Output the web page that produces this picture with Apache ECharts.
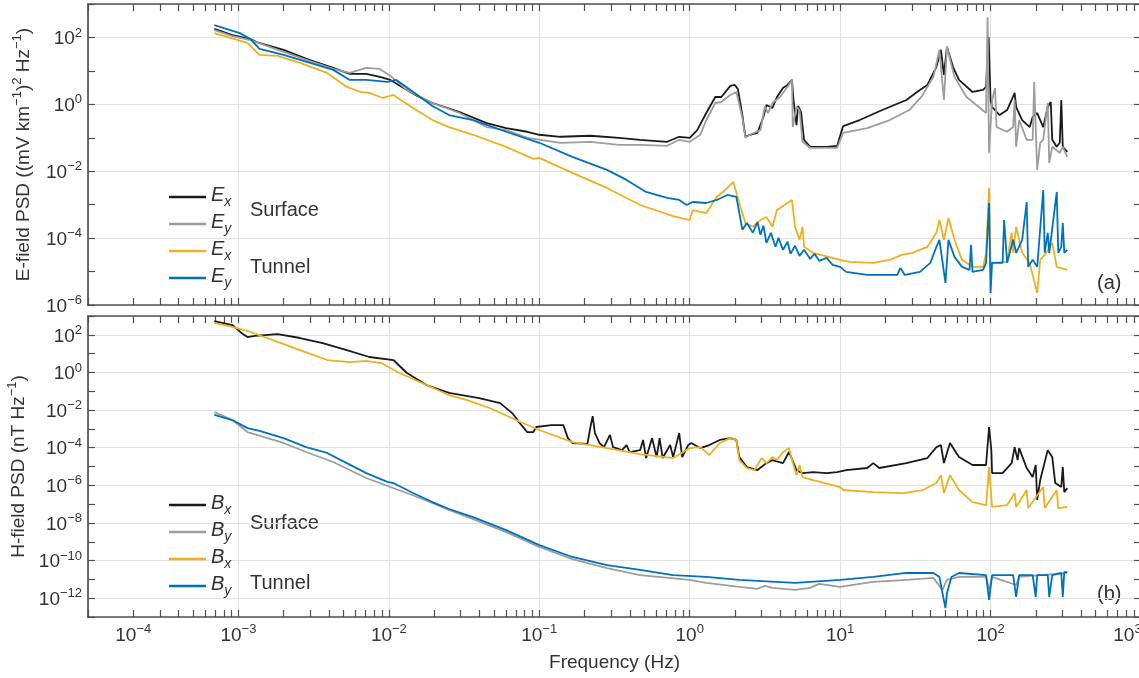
<!DOCTYPE html>
<html>
<head>
<meta charset="utf-8">
<title>E-field / H-field PSD</title>
<script src="https://cdn.jsdelivr.net/npm/echarts@6/dist/echarts.min.js"></script>
<style>
  html, body { margin: 0; padding: 0; background: #fff; }
  #echart { width: 1139px; height: 678px; }
</style>
</head>
<body>
<div id="echart"></div>
<script>
// every point is [log10 frequency (Hz), log10 PSD]

// (a) E-field, (mV km^-1)^2 Hz^-1
const exSurface = [[-3.16,2.26],[-3.04,2.07],[-2.92,1.95],[-2.88,1.86],[-2.70,1.63],[-2.53,1.33],[-2.37,1.09],[-2.26,0.91],[-2.15,0.91],[-2.06,0.82],[-1.99,0.73],[-1.88,0.43],[-1.81,0.25],[-1.71,0.04],[-1.53,-0.23],[-1.35,-0.56],[-1.22,-0.71],[-1.08,-0.82],[-1.00,-0.91],[-0.86,-0.97],[-0.66,-0.94],[-0.47,-1.00],[-0.33,-1.06],[-0.15,-1.12],[-0.07,-0.97],[0.00,-1.00],[0.05,-0.77],[0.11,-0.26],[0.17,0.22],[0.21,0.22],[0.27,0.55],[0.30,0.58],[0.32,0.46],[0.35,-0.32],[0.37,-0.97],[0.40,-0.91],[0.45,-0.85],[0.49,-0.38],[0.51,-0.02],[0.55,-0.11],[0.58,0.22],[0.62,0.49],[0.65,0.58],[0.68,0.73],[0.69,0.13],[0.71,-0.62],[0.72,-0.05],[0.74,-0.23],[0.76,-1.06],[0.80,-1.27],[0.91,-1.27],[0.98,-1.24],[1.02,-0.65],[1.13,-0.47],[1.28,-0.17],[1.44,0.13],[1.53,0.43],[1.58,0.58],[1.64,1.12],[1.67,1.63],[1.69,0.88],[1.71,1.72],[1.75,1.12],[1.79,0.73],[1.88,0.37],[1.95,0.43],[1.97,0.52],[1.987,2.01],[2.00,0.13],[2.01,-0.08],[2.06,-0.32],[2.11,-0.17],[2.14,0.13],[2.16,0.34],[2.17,-0.08],[2.21,-0.47],[2.26,-0.68],[2.28,-0.38],[2.31,-0.26],[2.35,-0.68],[2.38,-0.08],[2.40,0.07],[2.41,-1.06],[2.44,-1.27],[2.46,-1.15],[2.47,0.13],[2.48,-1.27],[2.51,-1.42]];
const eySurface = [[-3.16,2.22],[-3.04,2.04],[-2.92,1.92],[-2.70,1.57],[-2.53,1.30],[-2.37,1.06],[-2.26,0.94],[-2.15,1.09],[-2.06,1.06],[-1.99,0.85],[-1.88,0.43],[-1.71,0.04],[-1.53,-0.26],[-1.35,-0.68],[-1.22,-0.77],[-1.08,-1.00],[-0.86,-1.15],[-0.66,-1.12],[-0.47,-1.21],[-0.33,-1.21],[-0.15,-1.24],[-0.07,-1.06],[0.00,-1.12],[0.07,-0.91],[0.11,-0.47],[0.17,0.04],[0.21,0.07],[0.27,0.28],[0.31,0.37],[0.35,-0.41],[0.37,-1.00],[0.40,-0.91],[0.47,-0.77],[0.50,-0.05],[0.52,-0.26],[0.55,0.04],[0.60,0.22],[0.65,0.52],[0.68,0.73],[0.685,-0.68],[0.71,-0.08],[0.73,-0.17],[0.75,-1.12],[0.80,-1.30],[0.98,-1.30],[1.02,-0.85],[1.18,-0.71],[1.33,-0.47],[1.46,-0.17],[1.54,0.22],[1.62,0.82],[1.66,1.63],[1.69,0.13],[1.71,1.72],[1.76,0.82],[1.84,0.22],[1.93,-0.11],[1.97,-0.26],[1.98,2.60],[1.99,-1.45],[2.01,0.13],[2.03,0.49],[2.04,-0.68],[2.11,-0.82],[2.15,-0.68],[2.16,0.13],[2.17,-1.27],[2.19,-0.47],[2.24,-1.06],[2.28,-1.06],[2.29,0.67],[2.31,-1.96],[2.33,-1.15],[2.35,-1.06],[2.38,0.04],[2.39,-1.75],[2.41,-1.27],[2.46,-1.45],[2.48,-1.27],[2.51,-1.57]];
const exTunnel = [[-3.16,2.13],[-2.94,1.84],[-2.86,1.48],[-2.74,1.45],[-2.59,1.24],[-2.41,0.94],[-2.28,0.52],[-2.19,0.37],[-2.13,0.34],[-2.04,0.19],[-1.97,0.28],[-1.84,-0.11],[-1.71,-0.47],[-1.60,-0.68],[-1.44,-0.91],[-1.22,-1.27],[-1.04,-1.63],[-1.00,-1.60],[-0.78,-2.05],[-0.55,-2.50],[-0.33,-3.01],[-0.11,-3.34],[0.00,-3.46],[0.02,-3.16],[0.11,-3.25],[0.18,-2.77],[0.25,-2.50],[0.29,-2.32],[0.33,-2.95],[0.37,-3.55],[0.42,-3.66],[0.47,-3.46],[0.51,-3.37],[0.55,-3.66],[0.58,-3.16],[0.65,-2.95],[0.68,-2.86],[0.70,-3.66],[0.73,-4.05],[0.75,-3.66],[0.76,-4.26],[0.82,-4.44],[1.00,-4.65],[1.06,-4.71],[1.22,-4.74],[1.33,-4.65],[1.41,-4.50],[1.48,-4.44],[1.58,-4.26],[1.64,-3.84],[1.66,-3.46],[1.69,-4.05],[1.72,-3.40],[1.76,-4.05],[1.81,-4.65],[1.88,-4.86],[1.95,-4.86],[1.97,-4.44],[1.99,-2.50],[2.00,-4.74],[2.11,-4.71],[2.14,-3.84],[2.15,-4.44],[2.17,-3.66],[2.21,-4.44],[2.26,-4.74],[2.31,-5.64],[2.33,-4.65],[2.37,-4.44],[2.41,-4.14],[2.44,-4.86],[2.51,-4.95]];
const eyTunnel = [[-3.16,2.37],[-2.99,2.13],[-2.92,1.95],[-2.86,1.66],[-2.70,1.48],[-2.48,1.18],[-2.37,1.03],[-2.26,0.73],[-2.15,0.73],[-2.01,0.67],[-1.95,0.73],[-1.81,0.28],[-1.71,-0.05],[-1.60,-0.32],[-1.44,-0.47],[-1.22,-0.82],[-1.00,-1.15],[-0.78,-1.57],[-0.55,-1.96],[-0.42,-2.26],[-0.29,-2.62],[-0.15,-2.80],[-0.07,-2.86],[-0.02,-3.01],[0.02,-2.92],[0.11,-2.95],[0.18,-2.86],[0.25,-2.71],[0.31,-2.77],[0.33,-3.25],[0.35,-3.75],[0.38,-3.55],[0.42,-3.84],[0.45,-3.52],[0.47,-3.90],[0.49,-3.63],[0.51,-4.14],[0.54,-3.84],[0.57,-4.26],[0.59,-3.99],[0.62,-4.35],[0.65,-4.11],[0.67,-4.47],[0.70,-4.23],[0.73,-4.53],[0.76,-4.35],[0.80,-4.62],[0.83,-4.47],[0.86,-4.68],[0.91,-4.59],[0.95,-4.80],[1.00,-4.86],[1.04,-5.01],[1.18,-5.10],[1.38,-5.10],[1.40,-4.89],[1.43,-5.10],[1.53,-5.01],[1.60,-4.74],[1.64,-4.26],[1.66,-4.05],[1.70,-5.34],[1.72,-4.05],[1.76,-4.56],[1.81,-4.86],[1.86,-4.95],[1.87,-4.20],[1.88,-5.01],[1.95,-4.95],[1.97,-4.74],[1.99,-2.95],[2.00,-5.64],[2.01,-4.74],[2.08,-4.74],[2.09,-3.46],[2.11,-4.74],[2.15,-4.05],[2.17,-4.44],[2.21,-4.05],[2.24,-2.92],[2.25,-4.86],[2.28,-4.65],[2.31,-4.86],[2.35,-2.56],[2.36,-4.44],[2.38,-3.84],[2.39,-4.44],[2.44,-2.62],[2.45,-4.44],[2.47,-4.26],[2.48,-3.55],[2.49,-4.44],[2.51,-4.35]];

// (b) H-field, nT Hz^-1
const bxSurface = [[-3.16,2.73],[-3.04,2.52],[-2.98,2.10],[-2.94,1.88],[-2.89,1.94],[-2.74,2.04],[-2.59,1.83],[-2.44,1.56],[-2.28,1.19],[-2.13,0.82],[-1.97,0.66],[-1.88,-0.03],[-1.75,-0.67],[-1.60,-1.09],[-1.40,-1.36],[-1.26,-1.63],[-1.18,-2.16],[-1.13,-2.69],[-1.08,-3.17],[-1.04,-3.17],[-1.02,-2.90],[-0.92,-2.80],[-0.84,-2.80],[-0.81,-3.49],[-0.78,-3.75],[-0.68,-3.80],[-0.66,-2.90],[-0.645,-2.32],[-0.63,-3.22],[-0.60,-3.75],[-0.57,-3.97],[-0.53,-3.32],[-0.51,-3.97],[-0.45,-4.13],[-0.42,-3.86],[-0.40,-4.23],[-0.33,-4.13],[-0.31,-3.59],[-0.29,-4.55],[-0.25,-3.49],[-0.22,-4.50],[-0.20,-3.49],[-0.18,-4.55],[-0.13,-3.86],[-0.11,-4.50],[-0.07,-3.22],[-0.05,-4.50],[-0.01,-3.86],[0.01,-3.75],[0.07,-4.02],[0.13,-3.86],[0.20,-3.59],[0.27,-3.49],[0.31,-3.59],[0.33,-4.50],[0.38,-5.03],[0.45,-5.19],[0.51,-4.82],[0.55,-4.66],[0.62,-4.82],[0.66,-4.23],[0.71,-5.19],[0.75,-5.35],[0.82,-5.30],[0.91,-5.35],[0.98,-5.30],[1.04,-5.19],[1.18,-5.08],[1.22,-4.82],[1.26,-5.08],[1.44,-4.82],[1.58,-4.55],[1.64,-3.97],[1.67,-3.86],[1.69,-4.82],[1.73,-3.75],[1.79,-4.50],[1.88,-4.92],[1.97,-4.92],[1.99,-2.90],[2.005,-4.13],[2.01,-5.35],[2.08,-5.35],[2.14,-4.82],[2.16,-3.97],[2.18,-4.66],[2.19,-4.02],[2.24,-5.08],[2.28,-5.56],[2.30,-4.92],[2.31,-6.78],[2.33,-5.72],[2.38,-4.13],[2.41,-4.50],[2.43,-5.88],[2.47,-6.09],[2.48,-5.03],[2.49,-6.36],[2.51,-6.15]];
const bySurface = [[-3.16,-2.11],[-3.04,-2.53],[-2.94,-3.17],[-2.70,-3.75],[-2.55,-4.23],[-2.37,-4.76],[-2.15,-5.61],[-1.99,-6.09],[-1.81,-6.62],[-1.60,-7.31],[-1.44,-7.80],[-1.22,-8.49],[-1.00,-9.28],[-0.78,-9.92],[-0.55,-10.40],[-0.33,-10.77],[0.00,-11.03],[0.11,-11.19],[0.33,-11.40],[0.45,-11.50],[0.50,-11.35],[0.55,-11.45],[0.70,-11.56],[0.80,-11.45],[0.86,-11.24],[1.00,-11.40],[1.22,-11.13],[1.44,-11.03],[1.62,-10.92],[1.68,-11.56],[1.71,-11.03],[1.79,-10.87],[1.97,-10.87],[1.99,-11.56],[2.01,-10.87],[2.17,-11.30],[2.19,-10.87],[2.51,-10.66]];
const bxTunnel = [[-3.16,2.63],[-3.04,2.42],[-2.92,2.15],[-2.74,1.62],[-2.59,1.19],[-2.41,0.66],[-2.26,0.55],[-2.15,0.61],[-2.05,0.50],[-1.93,-0.03],[-1.75,-0.67],[-1.60,-1.20],[-1.48,-1.47],[-1.33,-1.89],[-1.11,-2.69],[-1.00,-3.06],[-0.78,-3.70],[-0.55,-4.02],[-0.33,-4.34],[-0.11,-4.55],[0.00,-4.02],[0.07,-3.97],[0.13,-4.39],[0.20,-3.75],[0.27,-3.49],[0.31,-3.59],[0.33,-4.66],[0.38,-5.08],[0.43,-5.19],[0.48,-4.55],[0.51,-4.82],[0.55,-4.50],[0.58,-4.66],[0.62,-4.23],[0.66,-4.02],[0.68,-4.66],[0.71,-5.46],[0.73,-4.92],[0.75,-5.56],[0.82,-5.72],[1.00,-6.09],[1.02,-6.25],[1.22,-6.36],[1.42,-6.41],[1.55,-6.25],[1.64,-5.88],[1.67,-5.46],[1.69,-6.41],[1.73,-5.46],[1.79,-6.25],[1.88,-6.89],[1.97,-7.05],[1.99,-5.03],[2.01,-7.15],[2.11,-7.05],[2.16,-6.41],[2.17,-7.15],[2.24,-6.25],[2.25,-7.21],[2.35,-6.09],[2.36,-7.21],[2.44,-6.25],[2.45,-7.21],[2.51,-7.15]];
const byTunnel = [[-3.16,-2.26],[-3.04,-2.53],[-2.94,-2.96],[-2.86,-3.11],[-2.70,-3.49],[-2.55,-3.97],[-2.41,-4.28],[-2.28,-4.82],[-2.15,-5.35],[-2.01,-5.82],[-1.97,-5.88],[-1.84,-6.41],[-1.71,-6.89],[-1.60,-7.26],[-1.44,-7.69],[-1.22,-8.38],[-1.00,-9.18],[-0.78,-9.81],[-0.55,-10.24],[-0.33,-10.50],[-0.11,-10.77],[0.11,-10.87],[0.33,-11.03],[0.70,-11.19],[1.00,-11.03],[1.22,-10.87],[1.44,-10.66],[1.62,-10.66],[1.66,-10.87],[1.68,-11.72],[1.70,-12.53],[1.71,-11.72],[1.74,-10.87],[1.79,-10.66],[1.97,-10.77],[1.99,-12.09],[2.01,-10.77],[2.15,-10.77],[2.17,-11.93],[2.19,-10.77],[2.28,-10.77],[2.30,-11.93],[2.31,-10.77],[2.38,-10.77],[2.39,-11.93],[2.41,-10.77],[2.47,-10.66],[2.48,-11.93],[2.49,-10.61],[2.51,-10.61]];

// axes (log10 units); the outer labels sit a little inside the frame, as in the figure
const xMin = -4, xMax = 3;
const xLabelPos = [Math.log10(2e-4), -3, -2, -1, 0, 1, 2, 2.91];
const xLabelExp = [-4, -3, -2, -1, 0, 1, 2, 3];
const eMin = -6, hMin = -13, yMax = 3;
const eLabels = [-6, -4, -2, 0, 2];
const hLabels = [-12, -10, -8, -6, -4, -2, 0, 2];

const xMinorTicks = [];
for (let d = xMin; d < xMax; d++) {
  for (let k = 1; k <= 9; k++) xMinorTicks.push(d + Math.log10(k));
}
xMinorTicks.push(xMax);

const FONT = 'Liberation Sans, Arial, Helvetica, sans-serif';
const TEXT = '#333';
const FRAME = '#505050';
const GRIDLINE = '#e2e2e2';
const C_BLACK = '#1a1a1a', C_GRAY = '#9d9d9d', C_GOLD = '#EDB120', C_BLUE = '#0072BD';

function sup(n) {
  return (n < 0 ? '\u2212' : '') + Math.abs(n);
}
function pow10(n) {
  return '{b|10}{e|' + sup(n) + '}';
}

const supRich = {
  b: { fontSize: 19, fontFamily: FONT, color: TEXT, lineHeight: 22, verticalAlign: 'bottom' },
  e: { fontSize: 13, fontFamily: FONT, color: TEXT, verticalAlign: 'top' }
};
const nameRich = {
  n: { fontSize: 19, fontFamily: FONT, color: TEXT, lineHeight: 22, verticalAlign: 'bottom' },
  e: { fontSize: 13, fontFamily: FONT, color: TEXT, verticalAlign: 'top' }
};
const legendRich = {
  i: { fontSize: 20, fontFamily: FONT, fontStyle: 'italic', color: TEXT, lineHeight: 24, verticalAlign: 'top' },
  s: { fontSize: 14, fontFamily: FONT, fontStyle: 'italic', color: TEXT, verticalAlign: 'bottom' }
};

const frameLine = { onZero: false, lineStyle: { color: FRAME, width: 1.7 } };
const tickStyle = { inside: true, length: 7, lineStyle: { color: FRAME, width: 1.2 } };

function xAxes(grid, withLabels) {
  const base = { type: 'value', gridIndex: grid, min: xMin, max: xMax, interval: 1, silent: true };
  return [
    Object.assign({}, base, {
      position: 'bottom',
      axisLine: frameLine,
      axisTick: { show: false },
      splitLine: { show: true, lineStyle: { color: GRIDLINE, width: 1 } },
      axisLabel: withLabels ? {
        customValues: xLabelPos,
        margin: 6,
        formatter: function (v) {
          const i = xLabelPos.findIndex(p => Math.abs(p - v) < 1e-6);
          return pow10(i >= 0 ? xLabelExp[i] : Math.round(v));
        },
        rich: supRich
      } : { show: false },
      name: withLabels ? 'Frequency (Hz)' : '',
      nameLocation: 'middle',
      nameGap: 36,
      nameTextStyle: { fontSize: 19, fontFamily: FONT, color: TEXT }
    }),
    Object.assign({}, base, {
      position: 'bottom',
      axisLine: { show: false, onZero: false },
      axisTick: Object.assign({ customValues: xMinorTicks }, tickStyle),
      axisLabel: { show: false },
      splitLine: { show: false }
    }),
    Object.assign({}, base, {
      position: 'top',
      axisLine: frameLine,
      axisTick: Object.assign({ customValues: xMinorTicks }, tickStyle),
      axisLabel: { show: false },
      splitLine: { show: false }
    })
  ];
}

function yAxes(grid, min, labels, name) {
  const base = { type: 'value', gridIndex: grid, min: min, max: yMax, silent: true };
  return [
    Object.assign({}, base, {
      interval: 1,
      position: 'left',
      axisLine: frameLine,
      axisTick: tickStyle,
      axisLabel: { customValues: labels, margin: 6, formatter: pow10, rich: supRich },
      splitLine: { show: false },
      name: name,
      nameLocation: 'middle',
      nameRotate: 90,
      nameGap: 55,
      nameTextStyle: { rich: nameRich }
    }),
    // grid lines every second decade: nice interval of 2, counted from the even decades
    Object.assign({}, base, {
      splitNumber: Math.round((yMax - min) / 2),
      position: 'left',
      axisLine: { show: false, onZero: false },
      axisTick: { show: false },
      axisLabel: { show: false },
      splitLine: { show: true, lineStyle: { color: GRIDLINE, width: 1 } }
    }),
    Object.assign({}, base, {
      interval: 1,
      position: 'right',
      axisLine: frameLine,
      axisTick: tickStyle,
      axisLabel: { show: false },
      splitLine: { show: false }
    })
  ];
}

function line(name, data, color, axisIndex) {
  return {
    name: name,
    type: 'line',
    data: data,
    xAxisIndex: axisIndex,
    yAxisIndex: axisIndex,
    color: color,
    symbol: 'none',
    showSymbol: false,
    clip: true,
    silent: true,
    lineStyle: { color: color, width: 1.8 },
    itemStyle: { color: color },
    emphasis: { disabled: true }
  };
}

function legend(names, top) {
  return {
    data: names,
    orient: 'vertical',
    left: 169,
    top: top,
    padding: 0,
    itemWidth: 37,
    itemHeight: 2.5,
    itemGap: 3,
    icon: 'rect',
    selectedMode: false,
    formatter: n => '{i|' + n[0] + '}{s|' + n[1] + '}',
    textStyle: { rich: legendRich }
  };
}

function label(text, x, y) {
  return {
    type: 'text', x: x, y: y, silent: true,
    style: { text: text, fontSize: 20, fontFamily: FONT, fill: TEXT, verticalAlign: 'middle' }
  };
}

const option = {
  animation: false,
  backgroundColor: '#fff',
  textStyle: { fontFamily: FONT },
  grid: [
    { left: 88, top: 4, width: 1053, height: 301, containLabel: false, outerBoundsMode: 'none' },
    { left: 88, top: 316, width: 1053, height: 301, containLabel: false, outerBoundsMode: 'none' }
  ],
  xAxis: xAxes(0, false).concat(xAxes(1, true)),
  yAxis: yAxes(0, eMin, eLabels,
      '{n|E-field PSD ((mV km}{e|\u22121}{n|)}{e|2}{n| Hz}{e|\u22121}{n|)}')
    .concat(yAxes(1, hMin, hLabels, '{n|H-field PSD (nT Hz}{e|\u22121}{n|)}')),
  legend: [
    legend(['Ex Surface', 'Ey Surface', 'Ex Tunnel', 'Ey Tunnel'], 185),
    legend(['Bx Surface', 'By Surface', 'Bx Tunnel', 'By Tunnel'], 493)
  ],
  graphic: [
    label('Surface', 250, 210),
    label('Tunnel', 250, 267),
    label('Surface', 250, 523),
    label('Tunnel', 250, 583),
    label('(a)', 1097, 283),
    label('(b)', 1097, 594)
  ],
  series: [
    line('Ex Surface', exSurface, C_BLACK, 0),
    line('Ey Surface', eySurface, C_GRAY, 0),
    line('Ex Tunnel', exTunnel, C_GOLD, 0),
    line('Ey Tunnel', eyTunnel, C_BLUE, 0),
    line('Bx Surface', bxSurface, C_BLACK, 3),
    line('By Surface', bySurface, C_GRAY, 3),
    line('Bx Tunnel', bxTunnel, C_GOLD, 3),
    line('By Tunnel', byTunnel, C_BLUE, 3)
  ]
};

const chart = echarts.init(document.getElementById('echart'));
chart.setOption(option);
</script>
</body>
</html>
